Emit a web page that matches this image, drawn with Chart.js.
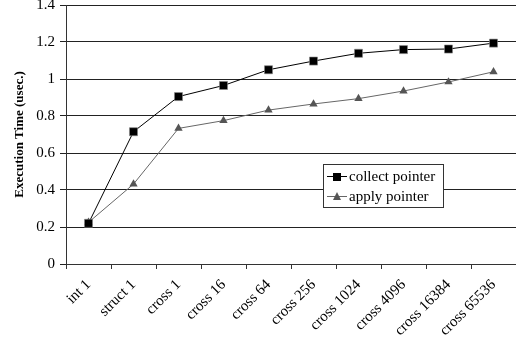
<!DOCTYPE html>
<html>
<head>
<meta charset="utf-8">
<script src="https://cdn.jsdelivr.net/npm/chart.js@4"></script>
<style>
  body { margin: 0; background: #fff; }
  #wrap { position: relative; width: 516px; height: 341px; }
</style>
</head>
<body>
<div id="wrap"><canvas id="timeChart" width="516" height="341"></canvas></div>
<script>
// categories along the x axis
const categories = ["int 1", "struct 1", "cross 1", "cross 16", "cross 64", "cross 256",
  "cross 1024", "cross 4096", "cross 16384", "cross 65536"];
// execution time (usec.) per series
const collectPointer = [0.22, 0.715, 0.905, 0.965, 1.05, 1.097, 1.139, 1.159, 1.162, 1.194];
const applyPointer = [0.225, 0.432, 0.733, 0.775, 0.832, 0.865, 0.894, 0.935, 0.984, 1.039];
const yTicks = [0, 0.2, 0.4, 0.6, 0.8, 1, 1.2, 1.4];

const serif = "'Liberation Serif', 'DejaVu Serif', serif";

// legend box drawn inside the plot area
const boxLegend = {
  id: "boxLegend",
  afterDraw(chart) {
    const ctx = chart.ctx;
    const x = 323, y = 164, w = 120, h = 43;
    ctx.save();
    ctx.fillStyle = "#fff";
    ctx.fillRect(x, y, w, h);
    ctx.strokeStyle = "#333";
    ctx.lineWidth = 1;
    ctx.strokeRect(x + 0.5, y + 0.5, w, h);
    chart.data.datasets.forEach((ds, i) => {
      const ly = y + 12 + i * 20;
      ctx.strokeStyle = ds.borderColor;
      ctx.beginPath();
      ctx.moveTo(x + 4, ly + 0.5);
      ctx.lineTo(x + 24, ly + 0.5);
      ctx.stroke();
      ctx.fillStyle = ds.pointBackgroundColor;
      if (ds.pointStyle === "rect") {
        ctx.fillRect(x + 10, ly - 3, 8, 8);
      } else {
        ctx.beginPath();
        ctx.moveTo(x + 14, ly - 4);
        ctx.lineTo(x + 18, ly + 4);
        ctx.lineTo(x + 10, ly + 4);
        ctx.closePath();
        ctx.fill();
      }
      ctx.fillStyle = "#000";
      ctx.font = "15px " + serif;
      ctx.textBaseline = "middle";
      ctx.fillText(ds.label, x + 26, ly + 1);
    });
    ctx.restore();
  }
};

new Chart(document.getElementById("timeChart"), {
  type: "line",
  data: {
    labels: categories,
    datasets: [
      {
        label: "collect pointer",
        data: collectPointer,
        borderColor: "#000",
        borderWidth: 1,
        pointStyle: "rect",
        pointRadius: 5.7,
        pointBackgroundColor: "#000",
        pointBorderColor: "#888",
        pointBorderWidth: 0.6
      },
      {
        label: "apply pointer",
        data: applyPointer,
        borderColor: "#666",
        borderWidth: 1,
        pointStyle: "triangle",
        pointRadius: 4.8,
        pointBackgroundColor: "#555",
        pointBorderColor: "#555",
        pointBorderWidth: 0
      }
    ]
  },
  options: {
    responsive: false,
    animation: false,
    devicePixelRatio: 1,
    clip: false,
    layout: { autoPadding: false, padding: { top: 5, right: 0, left: 0, bottom: 0 } },
    plugins: { legend: { display: false }, tooltip: { enabled: false } },
    scales: {
      x: {
        offset: true,
        grid: { offset: true, drawOnChartArea: false, color: "#333", tickLength: 5 },
        border: { color: "#333" },
        ticks: {
          color: "#000",
          font: { family: serif, size: 15 },
          minRotation: 45,
          maxRotation: 45,
          autoSkip: false,
          padding: 7
        },
        afterFit(scale) {
          scale.height = 77;
          scale.paddingLeft = 0;
          scale.paddingRight = 0;
        }
      },
      y: {
        min: 0,
        max: 1.4,
        afterBuildTicks(scale) { scale.ticks = yTicks.map(v => ({ value: v })); },
        grid: { color: "#222", tickLength: 6 },
        border: { color: "#333" },
        ticks: {
          color: "#000",
          font: { family: serif, size: 15 },
          padding: 5,
          callback: (v) => String(v)
        },
        title: {
          display: true,
          text: "Execution Time (usec.)",
          color: "#000",
          font: { family: serif, size: 13, weight: "bold" },
          padding: { top: 12, bottom: 0 }
        },
        afterFit(scale) {
          scale.width = 66;
          scale.paddingTop = 0;
          scale.paddingBottom = 0;
        }
      }
    }
  },
  plugins: [boxLegend]
});
</script>
</body>
</html>
